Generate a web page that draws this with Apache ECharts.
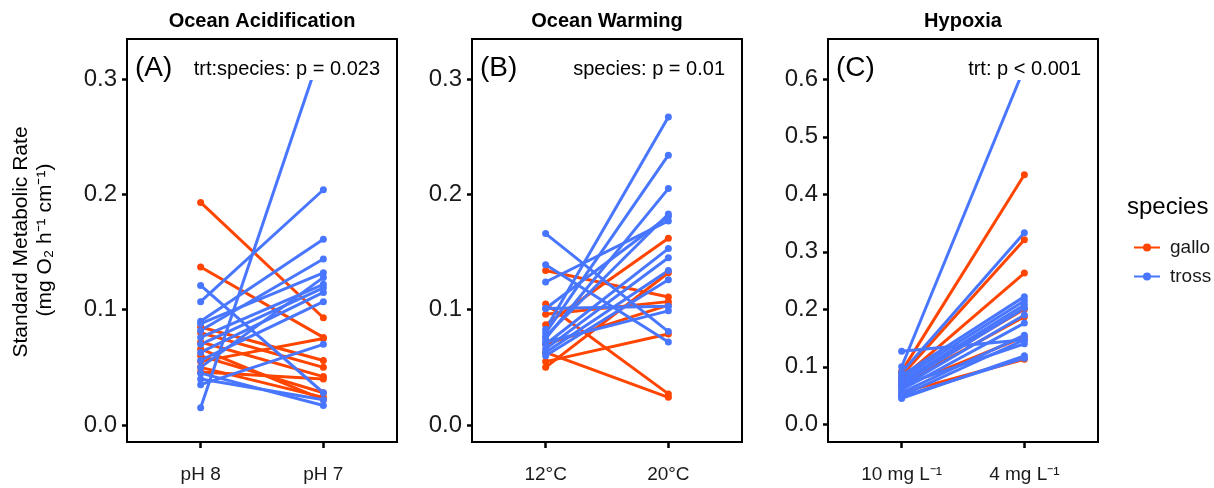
<!DOCTYPE html>
<html>
<head>
<meta charset="utf-8">
<script src="https://cdn.jsdelivr.net/npm/echarts@6/dist/echarts.min.js"></script>
<style>
  html, body { margin: 0; padding: 0; background: #fff; }
  #chart { width: 1214px; height: 488px; }
</style>
</head>
<body>
<div id="chart"></div>
<script>
// panel titles and treatment levels
var panelTitles = ['Ocean Acidification', 'Ocean Warming', 'Hypoxia'];
var panelTags = ['(A)', '(B)', '(C)'];
var panelStats = ['trt:species: p = 0.023', 'species: p = 0.01', 'trt: p < 0.001'];
var oaLevels = ['pH 8', 'pH 7'];
var owLevels = ['12°C', '20°C'];
var hyLevels = ['10 mg L⁻¹', '4 mg L⁻¹'];
var yTicksAB = [0, 0.1, 0.2, 0.3];
var yTicksC = [0, 0.1, 0.2, 0.3, 0.4, 0.5, 0.6];

// Ocean Acidification, paired by individual (before -> after)
var oaGalloPh8 = [0.193, 0.137, 0.085, 0.080, 0.072, 0.066, 0.060, 0.055, 0.050, 0.046];
var oaGalloPh7 = [0.093, 0.076, 0.056, 0.050, 0.042, 0.022, 0.028, 0.075, 0.024, 0.040];
var oaTrossPh8 = [0.121, 0.107, 0.015, 0.090, 0.088, 0.082, 0.076, 0.070, 0.063, 0.056, 0.050, 0.045, 0.040, 0.035];
var oaTrossPh7 = [0.028, 0.204, 0.330, 0.161, 0.132, 0.144, 0.122, 0.119, 0.115, 0.107, 0.128, 0.017, 0.022, 0.070];

// Ocean Warming
var owGallo12 = [0.134, 0.105, 0.063, 0.087, 0.096, 0.050, 0.055, 0.070];
var owGallo20 = [0.111, 0.027, 0.024, 0.162, 0.107, 0.132, 0.079, 0.104];
var owTross12 = [0.166, 0.139, 0.124, 0.101, 0.101, 0.083, 0.080, 0.075, 0.070, 0.066, 0.063, 0.060, 0.072, 0.077];
var owTross20 = [0.081, 0.072, 0.177, 0.103, 0.181, 0.267, 0.234, 0.205, 0.153, 0.145, 0.134, 0.126, 0.099, 0.183];

// Hypoxia
var hyGallo10 = [0.092, 0.085, 0.080, 0.070, 0.065, 0.055, 0.075];
var hyGallo4 = [0.434, 0.321, 0.263, 0.187, 0.152, 0.113, 0.200];
var hyTross10 = [0.100, 0.127, 0.090, 0.085, 0.080, 0.075, 0.070, 0.065, 0.060, 0.055, 0.050, 0.045, 0.048, 0.068];
var hyTross4 = [0.620, 0.147, 0.333, 0.222, 0.215, 0.208, 0.202, 0.190, 0.176, 0.155, 0.147, 0.119, 0.115, 0.140];

var colors = { gallo: '#FF4500', tross: '#4876FF' };
var font = "'Liberation Sans', Arial, sans-serif";

var gridLeft = [127, 472, 828];
var gridW = 270;
var gridTop = 39;
var gridH = 403;

var series = [];
function addPairs(idx, name, before, after) {
    for (var i = 0; i < before.length; i++) {
        series.push({
            name: name,
            type: 'line',
            xAxisIndex: idx,
            yAxisIndex: idx,
            data: [[1, before[i]], [2, after[i]]],
            symbol: 'circle',
            symbolSize: 7,
            color: colors[name],
            lineStyle: { width: 3, color: colors[name] },
            itemStyle: { color: colors[name] },
            emphasis: { disabled: true },
            animation: false
        });
    }
}
addPairs(0, 'gallo', oaGalloPh8, oaGalloPh7);
addPairs(0, 'tross', oaTrossPh8, oaTrossPh7);
addPairs(1, 'gallo', owGallo12, owGallo20);
addPairs(1, 'tross', owTross12, owTross20);
addPairs(2, 'gallo', hyGallo10, hyGallo4);
addPairs(2, 'tross', hyTross10, hyTross4);

var levels = [oaLevels, owLevels, hyLevels];
var grids = [], xAxes = [], yAxes = [];
for (var p = 0; p < 3; p++) {
    grids.push({
        left: gridLeft[p], top: gridTop, width: gridW, height: gridH,
        show: true, borderColor: '#000', borderWidth: 2, backgroundColor: 'transparent'
    });
    (function (lv) {
        xAxes.push({
            type: 'value', gridIndex: p, min: 0.4, max: 2.6,
            axisLine: { show: false, onZero: false },
            splitLine: { show: false },
            axisTick: { show: true, inside: false, length: 6, customValues: [1, 2], lineStyle: { color: '#000', width: 2.5 } },
            axisLabel: {
                customValues: [1, 2], margin: 23, fontSize: 19, color: '#1a1a1a', fontFamily: font,
                formatter: function (v) { return lv[Math.round(v) - 1]; }
            }
        });
    })(levels[p]);
    var ticks = p === 2 ? yTicksC : yTicksAB;
    yAxes.push({
        type: 'value', gridIndex: p,
        min: p === 2 ? -0.0308 : -0.0147,
        max: p === 2 ? 0.670 : 0.3347,
        axisLine: { show: false, onZero: false },
        splitLine: { show: false },
        axisTick: { show: true, length: 5, customValues: ticks, lineStyle: { color: '#000', width: 2.5 } },
        axisLabel: {
            customValues: ticks, margin: 10, fontSize: 24, color: '#1a1a1a', fontFamily: font,
            formatter: function (v) { return v.toFixed(1); }
        }
    });
}

var graphics = [];
for (var q = 0; q < 3; q++) {
    var cx = gridLeft[q] + gridW / 2;
    var right = gridLeft[q] + gridW;
    graphics.push({
        type: 'text', x: cx, y: 21, z: 60,
        style: { text: panelTitles[q], fontSize: 20, fontWeight: 'bold', fontFamily: font, fill: '#000', align: 'center', verticalAlign: 'middle' }
    });
    graphics.push({
        type: 'rect', z: 50,
        shape: { x: right - 220, y: 41, width: 214, height: 39 },
        style: { fill: '#fff' }
    });
    graphics.push({
        type: 'text', x: right - 17, y: 69, z: 60,
        style: { text: panelStats[q], fontSize: 20, fontFamily: font, fill: '#000', align: 'right', verticalAlign: 'middle' }
    });
    graphics.push({
        type: 'text', x: gridLeft[q] + 8, y: 68, z: 60,
        style: { text: panelTags[q], fontSize: 28, fontFamily: font, fill: '#000', align: 'left', verticalAlign: 'middle' }
    });
}
graphics.push({
    type: 'text', x: 21, y: 242, rotation: Math.PI / 2,
    style: { text: 'Standard Metabolic Rate', fontSize: 21, fontFamily: font, fill: '#000', align: 'center', verticalAlign: 'middle' }
});
graphics.push({
    type: 'text', x: 45, y: 240, rotation: Math.PI / 2,
    style: { text: '(mg O₂ h⁻¹ cm⁻¹)', fontSize: 21, fontFamily: font, fill: '#000', align: 'center', verticalAlign: 'middle' }
});
graphics.push({
    type: 'text', x: 1127, y: 207,
    style: { text: 'species', fontSize: 24, fontFamily: font, fill: '#000', align: 'left', verticalAlign: 'middle' }
});

var myChart = echarts.init(document.getElementById('chart'), null, { renderer: 'canvas' });
myChart.setOption({
    animation: false,
    backgroundColor: '#fff',
    grid: grids,
    xAxis: xAxes,
    yAxis: yAxes,
    legend: {
        data: ['gallo', 'tross'],
        orient: 'vertical',
        left: 1128, top: 233,
        itemWidth: 26, itemHeight: 10, itemGap: 10,
        textStyle: { fontSize: 19, lineHeight: 19, fontFamily: font, color: '#1a1a1a', padding: [0, 0, 0, 5] },
        selectedMode: false
    },
    graphic: { elements: graphics },
    series: series
});
</script>
</body>
</html>
